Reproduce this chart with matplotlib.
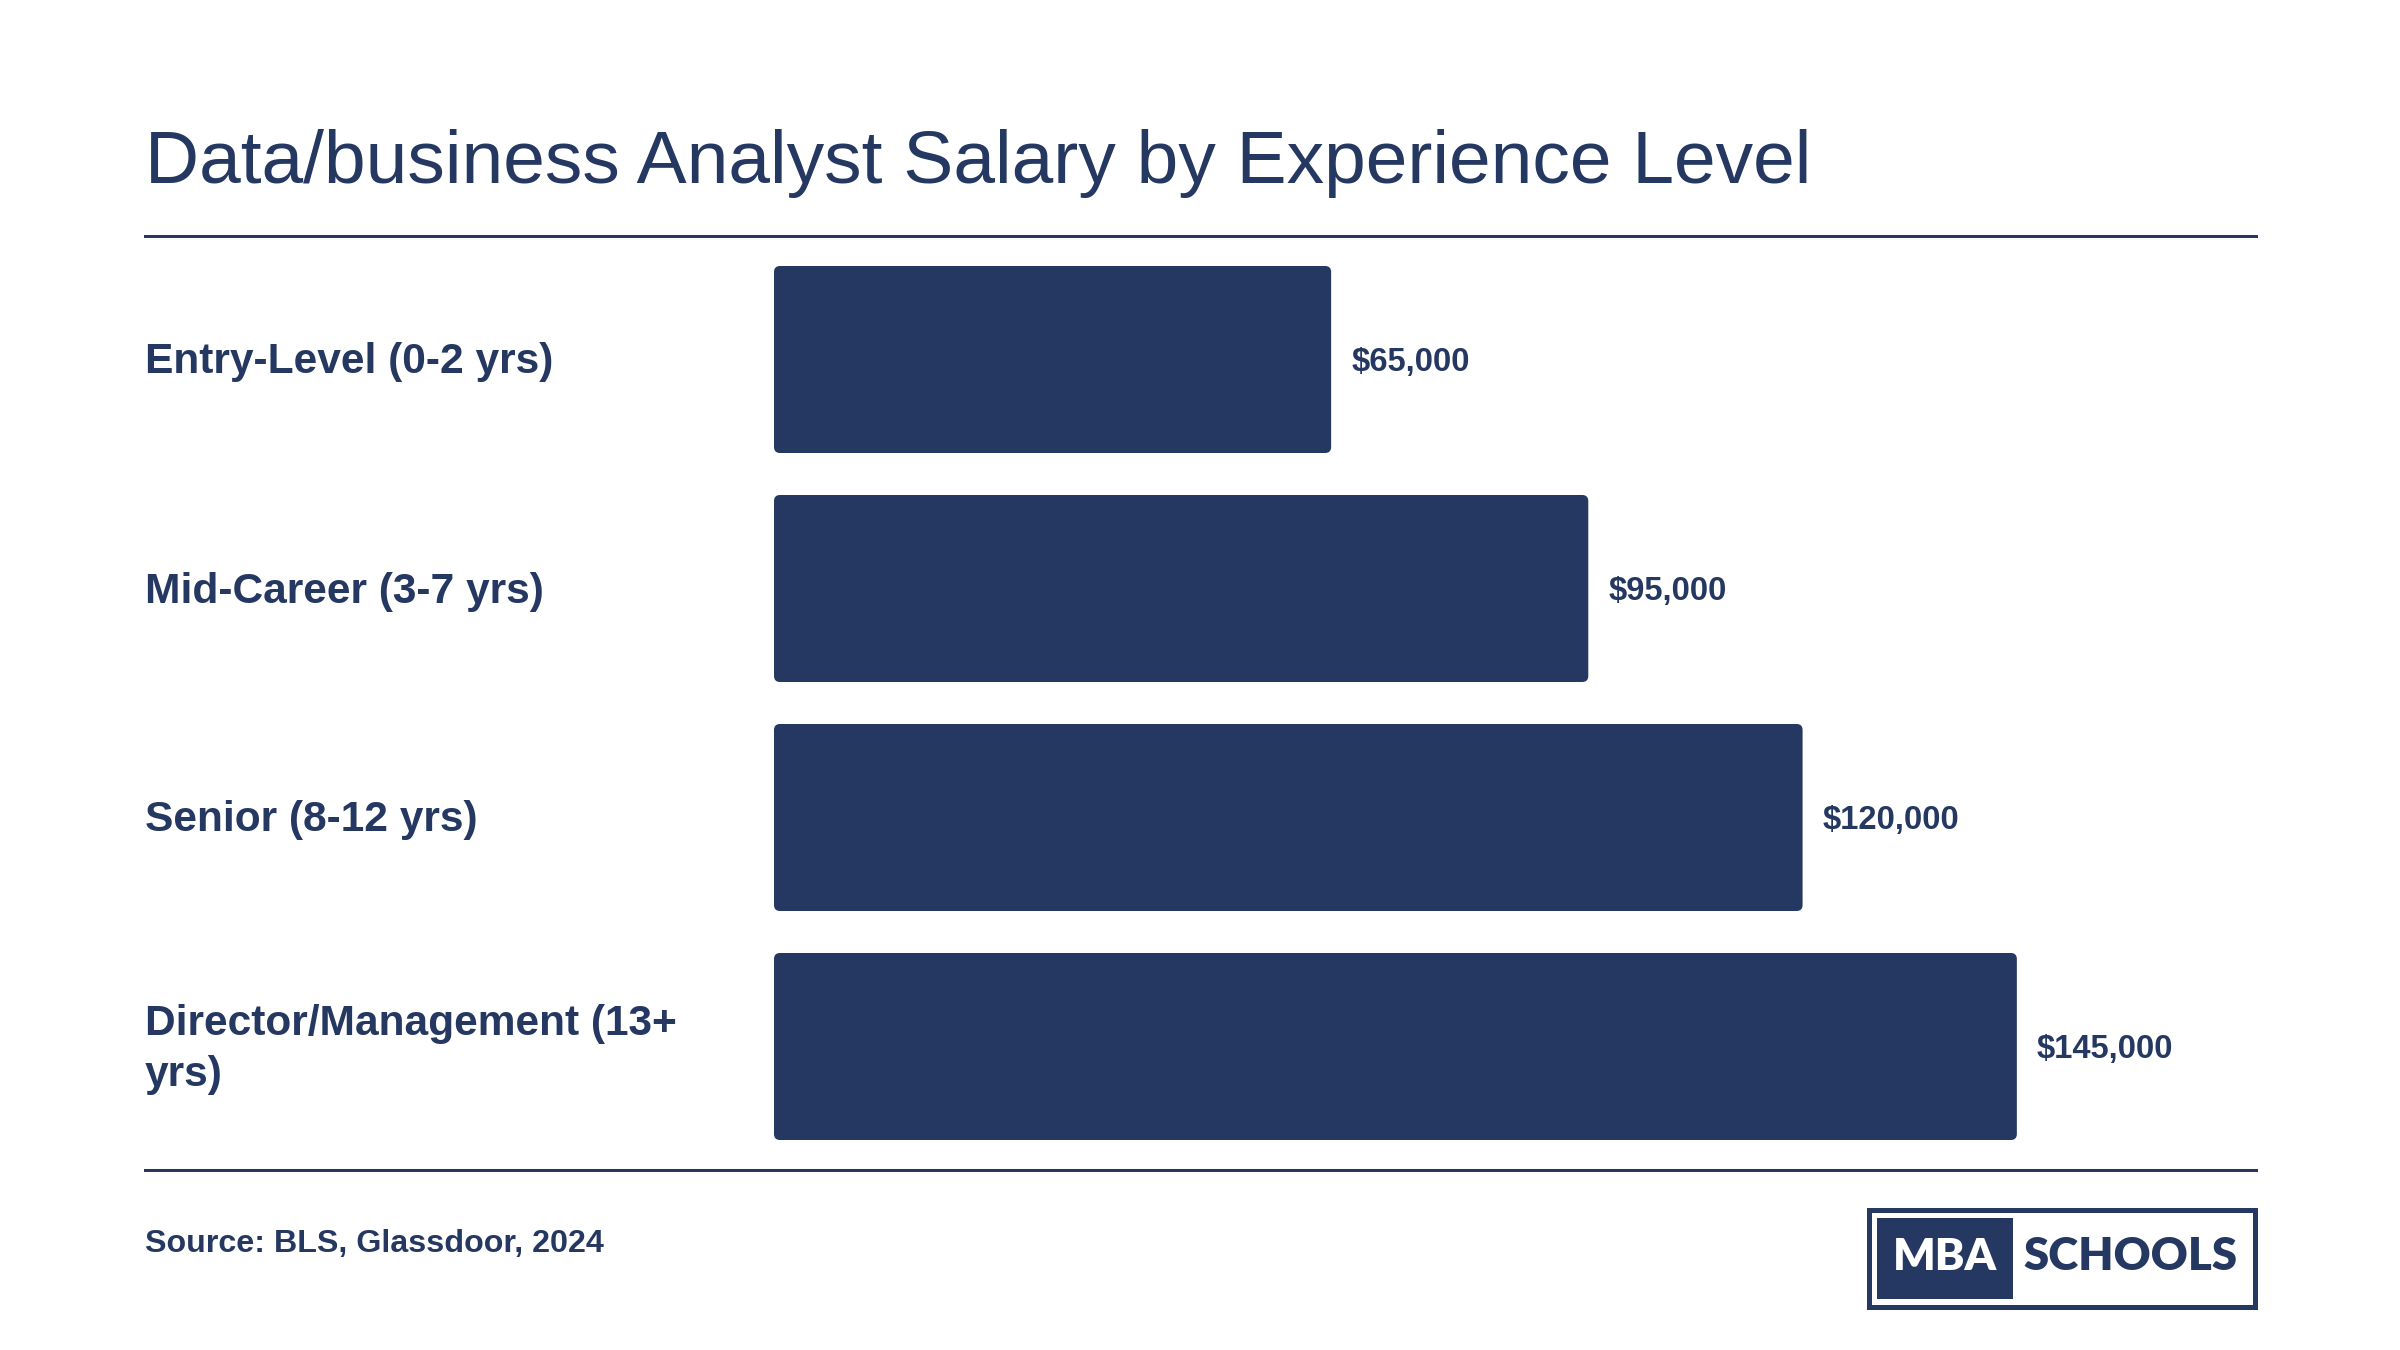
import matplotlib
matplotlib.use("Agg")
import matplotlib.pyplot as plt
from matplotlib.patches import FancyBboxPatch, Rectangle
from matplotlib.lines import Line2D
import matplotlib.transforms as mtransforms

# ---- data ----
categories = ["Entry-Level (0-2 yrs)", "Mid-Career (3-7 yrs)", "Senior (8-12 yrs)",
              "Director/Management (13+\nyrs)"]
salaries = [65000, 95000, 120000, 145000]
value_labels = ["$65,000", "$95,000", "$120,000", "$145,000"]
title = "Data/business Analyst Salary by Experience Level"
source = "Source: BLS, Glassdoor, 2024"

NAVY = "#253861"
W, H, DPI = 2400, 1350, 200
FONT = ["Liberation Sans", "DejaVu Sans"]

fig = plt.figure(figsize=(W / DPI, H / DPI), dpi=DPI)
fig.patch.set_facecolor("white")

def fx(px):
    return px / W

def fy(py):
    return 1 - py / H

# axes placement (pixel coordinates of the reference)
ax_left, ax_right, ax_top, ax_bottom = 774, 2256, 236, 1170
ax = fig.add_axes([fx(ax_left), fy(ax_bottom), fx(ax_right - ax_left), (ax_bottom - ax_top) / H])
ax.set_axis_off()

xmax = 172900
first_center_px = 359.5
spacing_px = 229.0
y_per_px = 1.0 / spacing_px
ytop = -(first_center_px - ax_top) * y_per_px
ybot = ytop + (ax_bottom - ax_top) * y_per_px
ax.set_xlim(0, xmax)
ax.set_ylim(ybot, ytop)

bar_h = 187 / spacing_px
bars = ax.barh(range(len(salaries)), salaries, height=bar_h, color=NAVY)

x_per_px = xmax / (ax_right - ax_left)
radius_px = 6
for b in bars:
    b.set_visible(False)
    p = FancyBboxPatch((b.get_x(), b.get_y()), b.get_width(), b.get_height(),
                       boxstyle=f"round,pad=0,rounding_size={radius_px * x_per_px}",
                       mutation_aspect=y_per_px / x_per_px,
                       facecolor=NAVY, edgecolor="none", zorder=2)
    ax.add_patch(p)

text_shift = 3 * y_per_px
for i, (v, lab) in enumerate(zip(salaries, value_labels)):
    ax.annotate(lab, xy=(v, i + text_shift), xytext=(20 * 72 / DPI, 0), textcoords="offset points",
                va="center", ha="left", fontsize=11.8, fontweight="bold",
                color=NAVY, family=FONT)

trans = mtransforms.blended_transform_factory(fig.transFigure, ax.transData)
for i, c in enumerate(categories):
    ax.text(fx(145), i + text_shift, c, transform=trans, va="center", ha="left",
            fontsize=15.3, fontweight="bold", color=NAVY, family=FONT,
            linespacing=1.33)

# title and rules
fig.text(fx(145), fy(183), title, fontsize=27, color=NAVY, family=FONT,
         va="baseline", ha="left")
for yy in (236, 1170):
    fig.add_artist(Line2D([fx(145), fx(2256)], [fy(yy), fy(yy)], color=NAVY,
                          lw=3 * 72 / DPI, transform=fig.transFigure))

fig.text(fx(145), fy(1252), source, fontsize=11.6, fontweight="bold", color=NAVY,
         family=FONT, va="baseline", ha="left")

# logo
fig.add_artist(Rectangle((fx(1868.5), fy(1306.5)), fx(2254.5 - 1868.5), (1306.5 - 1209.5) / H,
                         transform=fig.transFigure, facecolor="white",
                         edgecolor=NAVY, lw=5 * 72 / DPI))
fig.add_artist(Rectangle((fx(1877), fy(1299)), fx(2013 - 1877), (1299 - 1218) / H,
                         transform=fig.transFigure, facecolor=NAVY, edgecolor="none"))
LOGO_FONT = ["Lato", "DejaVu Sans"]
t1 = fig.text(fx(1945), fy(1257), "MBA", fontsize=19.5, fontweight="heavy", color="white",
              family=LOGO_FONT, ha="center", va="center")
t2 = fig.text(fx(2130), fy(1257), "SCHOOLS", fontsize=19.5, fontweight="heavy", color=NAVY,
              family=LOGO_FONT, ha="center", va="center")
renderer = fig.canvas.get_renderer()
for t, target in ((t1, 104), (t2, 214)):
    wpx = t.get_window_extent(renderer).width
    t.set_fontsize(t.get_fontsize() * target / wpx)

fig.savefig("out.png", dpi=DPI, facecolor="white")
